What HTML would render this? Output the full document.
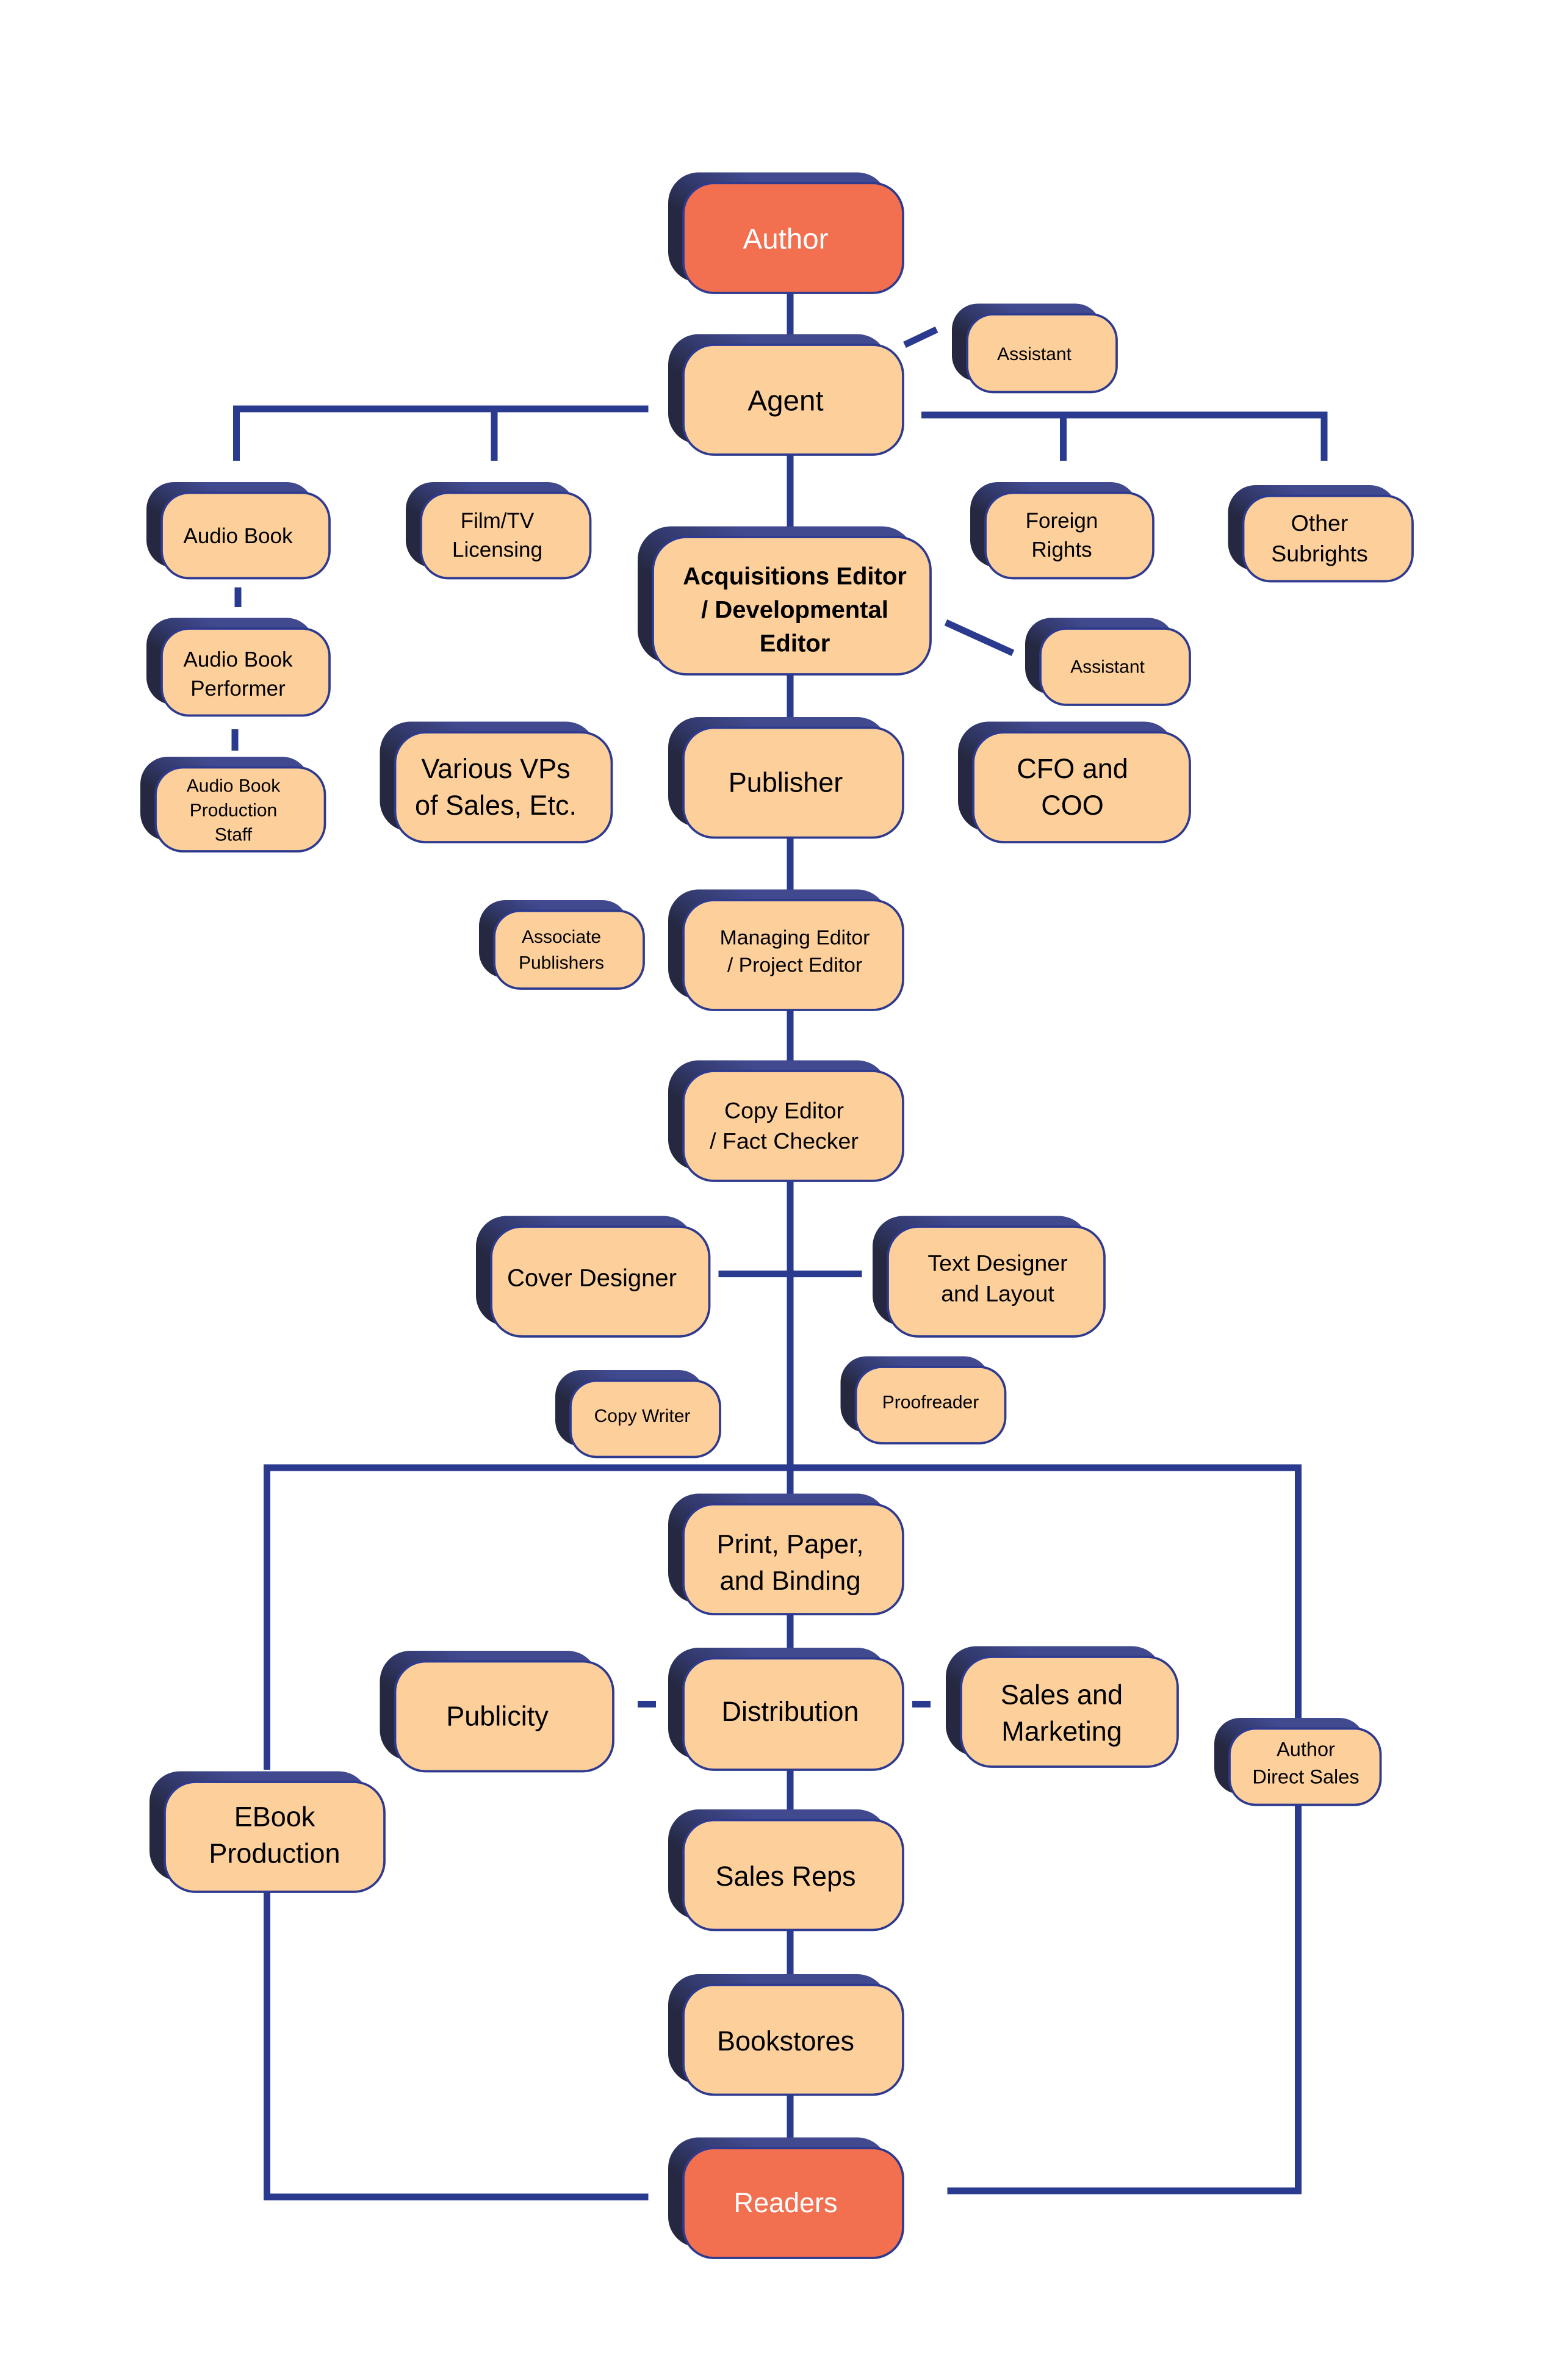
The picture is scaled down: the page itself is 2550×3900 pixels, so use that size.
<!DOCTYPE html>
<html><head><meta charset="utf-8"><style>html,body{margin:0;padding:0;background:#fff}svg{display:block}</style></head>
<body>
<svg xmlns="http://www.w3.org/2000/svg" width="2550" height="3900" viewBox="0 0 1020 1560">
<defs>
<linearGradient id="g" x1="0" y1="0.3" x2="0.35" y2="0">
<stop offset="0" stop-color="#252840"/><stop offset="0.5" stop-color="#333a6e"/><stop offset="1" stop-color="#414a8f"/>
</linearGradient>
</defs>
<rect width="1020" height="1560" fill="#fff"/>
<g stroke="#293a8f" stroke-width="4.4" fill="none">
<line x1="518" y1="190" x2="518" y2="228"/>
<line x1="593" y1="226" x2="614" y2="216"/>
<polyline points="155,302 155,268 425,268"/>
<line x1="324" y1="268" x2="324" y2="302"/>
<polyline points="604,272 868,272 868,302"/>
<line x1="697" y1="272" x2="697" y2="302"/>
<line x1="518" y1="296" x2="518" y2="354"/>
<line x1="620" y1="408" x2="664" y2="428"/>
<line x1="156" y1="385" x2="156" y2="398"/>
<line x1="154" y1="478" x2="154" y2="492"/>
<line x1="518" y1="440" x2="518" y2="1410"/>
<line x1="471" y1="835" x2="565" y2="835"/>
<polyline points="175,1160 175,962 851,962 851,1128"/>
<polyline points="175,1240 175,1440 425,1440"/>
<polyline points="851,1183 851,1436 621,1436"/>
<line x1="418" y1="1117" x2="430" y2="1117"/>
<line x1="598" y1="1117" x2="610" y2="1117"/>
</g>
<g font-family="Liberation Sans, sans-serif" text-anchor="middle" fill="#111">
<!-- nodes -->
<g id="n"></g>
</g>
<g font-family="Liberation Sans, sans-serif" text-anchor="middle">
<rect x="438" y="113" width="144" height="72" rx="20" fill="url(#g)"/><rect x="448" y="120" width="144" height="72" rx="20" fill="#f26f50" stroke="#2e3a8f" stroke-width="1.5"/><text x="515" y="163" font-size="19" fill="#fff">Author</text>
<rect x="438" y="219" width="144" height="72" rx="20" fill="url(#g)"/><rect x="448" y="226" width="144" height="72" rx="20" fill="#fccf9b" stroke="#2e3a8f" stroke-width="1.5"/><text x="515" y="269" font-size="19">Agent</text>
<rect x="624" y="199" width="98" height="51" rx="17" fill="url(#g)"/><rect x="634" y="206" width="98" height="51" rx="17" fill="#fccf9b" stroke="#2e3a8f" stroke-width="1.5"/><text x="678" y="236" font-size="12">Assistant</text>
<rect x="96" y="316" width="110" height="56" rx="18" fill="url(#g)"/><rect x="106" y="323" width="110" height="56" rx="18" fill="#fccf9b" stroke="#2e3a8f" stroke-width="1.5"/><text x="156" y="356" font-size="14">Audio Book</text>
<rect x="266" y="316" width="111" height="56" rx="18" fill="url(#g)"/><rect x="276" y="323" width="111" height="56" rx="18" fill="#fccf9b" stroke="#2e3a8f" stroke-width="1.5"/><text x="326" y="346" font-size="14">Film/TV</text><text x="326" y="365" font-size="14">Licensing</text>
<rect x="636" y="316" width="110" height="56" rx="18" fill="url(#g)"/><rect x="646" y="323" width="110" height="56" rx="18" fill="#fccf9b" stroke="#2e3a8f" stroke-width="1.5"/><text x="696" y="346" font-size="14">Foreign</text><text x="696" y="365" font-size="14">Rights</text>
<rect x="805" y="318" width="111" height="56" rx="18" fill="url(#g)"/><rect x="815" y="325" width="111" height="56" rx="18" fill="#fccf9b" stroke="#2e3a8f" stroke-width="1.5"/><text x="865" y="348" font-size="15">Other</text><text x="865" y="368" font-size="15">Subrights</text>
<rect x="418" y="345" width="182" height="90" rx="22" fill="url(#g)"/><rect x="428" y="352" width="182" height="90" rx="22" fill="#fccf9b" stroke="#2e3a8f" stroke-width="1.5"/><g font-weight="bold" font-size="16"><text x="521" y="383">Acquisitions Editor</text><text x="521" y="405">/ Developmental</text><text x="521" y="427">Editor</text></g>
<rect x="672" y="405" width="98" height="50" rx="17" fill="url(#g)"/><rect x="682" y="412" width="98" height="50" rx="17" fill="#fccf9b" stroke="#2e3a8f" stroke-width="1.5"/><text x="726" y="441" font-size="12">Assistant</text>
<rect x="96" y="405" width="110" height="57" rx="18" fill="url(#g)"/><rect x="106" y="412" width="110" height="57" rx="18" fill="#fccf9b" stroke="#2e3a8f" stroke-width="1.5"/><text x="156" y="437" font-size="14">Audio Book</text><text x="156" y="456" font-size="14">Performer</text>
<rect x="92" y="496" width="111" height="55" rx="18" fill="url(#g)"/><rect x="102" y="503" width="111" height="55" rx="18" fill="#fccf9b" stroke="#2e3a8f" stroke-width="1.5"/><g font-size="12"><text x="153" y="519">Audio Book</text><text x="153" y="535">Production</text><text x="153" y="551">Staff</text></g>
<rect x="249" y="473" width="142" height="72" rx="20" fill="url(#g)"/><rect x="259" y="480" width="142" height="72" rx="20" fill="#fccf9b" stroke="#2e3a8f" stroke-width="1.5"/><text x="325" y="510" font-size="18">Various VPs</text><text x="325" y="534" font-size="18">of Sales, Etc.</text>
<rect x="438" y="470" width="144" height="72" rx="20" fill="url(#g)"/><rect x="448" y="477" width="144" height="72" rx="20" fill="#fccf9b" stroke="#2e3a8f" stroke-width="1.5"/><text x="515" y="519" font-size="18">Publisher</text>
<rect x="628" y="473" width="142" height="72" rx="20" fill="url(#g)"/><rect x="638" y="480" width="142" height="72" rx="20" fill="#fccf9b" stroke="#2e3a8f" stroke-width="1.5"/><text x="703" y="510" font-size="18">CFO and</text><text x="703" y="534" font-size="18">COO</text>
<rect x="314" y="590" width="98" height="51" rx="17" fill="url(#g)"/><rect x="324" y="597" width="98" height="51" rx="17" fill="#fccf9b" stroke="#2e3a8f" stroke-width="1.5"/><g font-size="12"><text x="368" y="618">Associate</text><text x="368" y="635">Publishers</text></g>
<rect x="438" y="583" width="144" height="72" rx="20" fill="url(#g)"/><rect x="448" y="590" width="144" height="72" rx="20" fill="#fccf9b" stroke="#2e3a8f" stroke-width="1.5"/><g font-size="13.5"><text x="521" y="619">Managing Editor</text><text x="521" y="637">/ Project Editor</text></g>
<rect x="438" y="695" width="144" height="72" rx="20" fill="url(#g)"/><rect x="448" y="702" width="144" height="72" rx="20" fill="#fccf9b" stroke="#2e3a8f" stroke-width="1.5"/><g font-size="15"><text x="514" y="733">Copy Editor</text><text x="514" y="753">/ Fact Checker</text></g>
<rect x="312" y="797" width="143" height="72" rx="20" fill="url(#g)"/><rect x="322" y="804" width="143" height="72" rx="20" fill="#fccf9b" stroke="#2e3a8f" stroke-width="1.5"/><text x="388" y="843" font-size="16">Cover Designer</text>
<rect x="572" y="797" width="142" height="72" rx="20" fill="url(#g)"/><rect x="582" y="804" width="142" height="72" rx="20" fill="#fccf9b" stroke="#2e3a8f" stroke-width="1.5"/><g font-size="15"><text x="654" y="833">Text Designer</text><text x="654" y="853">and Layout</text></g>
<rect x="364" y="898" width="98" height="50" rx="17" fill="url(#g)"/><rect x="374" y="905" width="98" height="50" rx="17" fill="#fccf9b" stroke="#2e3a8f" stroke-width="1.5"/><text x="421" y="932" font-size="12">Copy Writer</text>
<rect x="551" y="889" width="98" height="50" rx="17" fill="url(#g)"/><rect x="561" y="896" width="98" height="50" rx="17" fill="#fccf9b" stroke="#2e3a8f" stroke-width="1.5"/><text x="610" y="923" font-size="12">Proofreader</text>
<rect x="438" y="979" width="144" height="72" rx="20" fill="url(#g)"/><rect x="448" y="986" width="144" height="72" rx="20" fill="#fccf9b" stroke="#2e3a8f" stroke-width="1.5"/><g font-size="17.5"><text x="518" y="1018">Print, Paper,</text><text x="518" y="1042">and Binding</text></g>
<rect x="249" y="1082" width="143" height="72" rx="20" fill="url(#g)"/><rect x="259" y="1089" width="143" height="72" rx="20" fill="#fccf9b" stroke="#2e3a8f" stroke-width="1.5"/><text x="326" y="1131" font-size="18">Publicity</text>
<rect x="438" y="1080" width="144" height="73" rx="20" fill="url(#g)"/><rect x="448" y="1087" width="144" height="73" rx="20" fill="#fccf9b" stroke="#2e3a8f" stroke-width="1.5"/><text x="518" y="1128" font-size="18">Distribution</text>
<rect x="620" y="1079" width="142" height="72" rx="20" fill="url(#g)"/><rect x="630" y="1086" width="142" height="72" rx="20" fill="#fccf9b" stroke="#2e3a8f" stroke-width="1.5"/><g font-size="18"><text x="696" y="1117">Sales and</text><text x="696" y="1141">Marketing</text></g>
<rect x="796" y="1126" width="99" height="50" rx="17" fill="url(#g)"/><rect x="806" y="1133" width="99" height="50" rx="17" fill="#fccf9b" stroke="#2e3a8f" stroke-width="1.5"/><g font-size="13"><text x="856" y="1151">Author</text><text x="856" y="1169">Direct Sales</text></g>
<rect x="98" y="1161" width="144" height="72" rx="20" fill="url(#g)"/><rect x="108" y="1168" width="144" height="72" rx="20" fill="#fccf9b" stroke="#2e3a8f" stroke-width="1.5"/><g font-size="18"><text x="180" y="1197">EBook</text><text x="180" y="1221">Production</text></g>
<rect x="438" y="1186" width="144" height="72" rx="20" fill="url(#g)"/><rect x="448" y="1193" width="144" height="72" rx="20" fill="#fccf9b" stroke="#2e3a8f" stroke-width="1.5"/><text x="515" y="1236" font-size="18">Sales Reps</text>
<rect x="438" y="1294" width="144" height="72" rx="20" fill="url(#g)"/><rect x="448" y="1301" width="144" height="72" rx="20" fill="#fccf9b" stroke="#2e3a8f" stroke-width="1.5"/><text x="515" y="1344" font-size="18">Bookstores</text>
<rect x="438" y="1401" width="144" height="72" rx="20" fill="url(#g)"/><rect x="448" y="1408" width="144" height="72" rx="20" fill="#f26f50" stroke="#2e3a8f" stroke-width="1.5"/><text x="515" y="1450" font-size="18" fill="#fff">Readers</text>
</g>
</svg>
</body></html>
